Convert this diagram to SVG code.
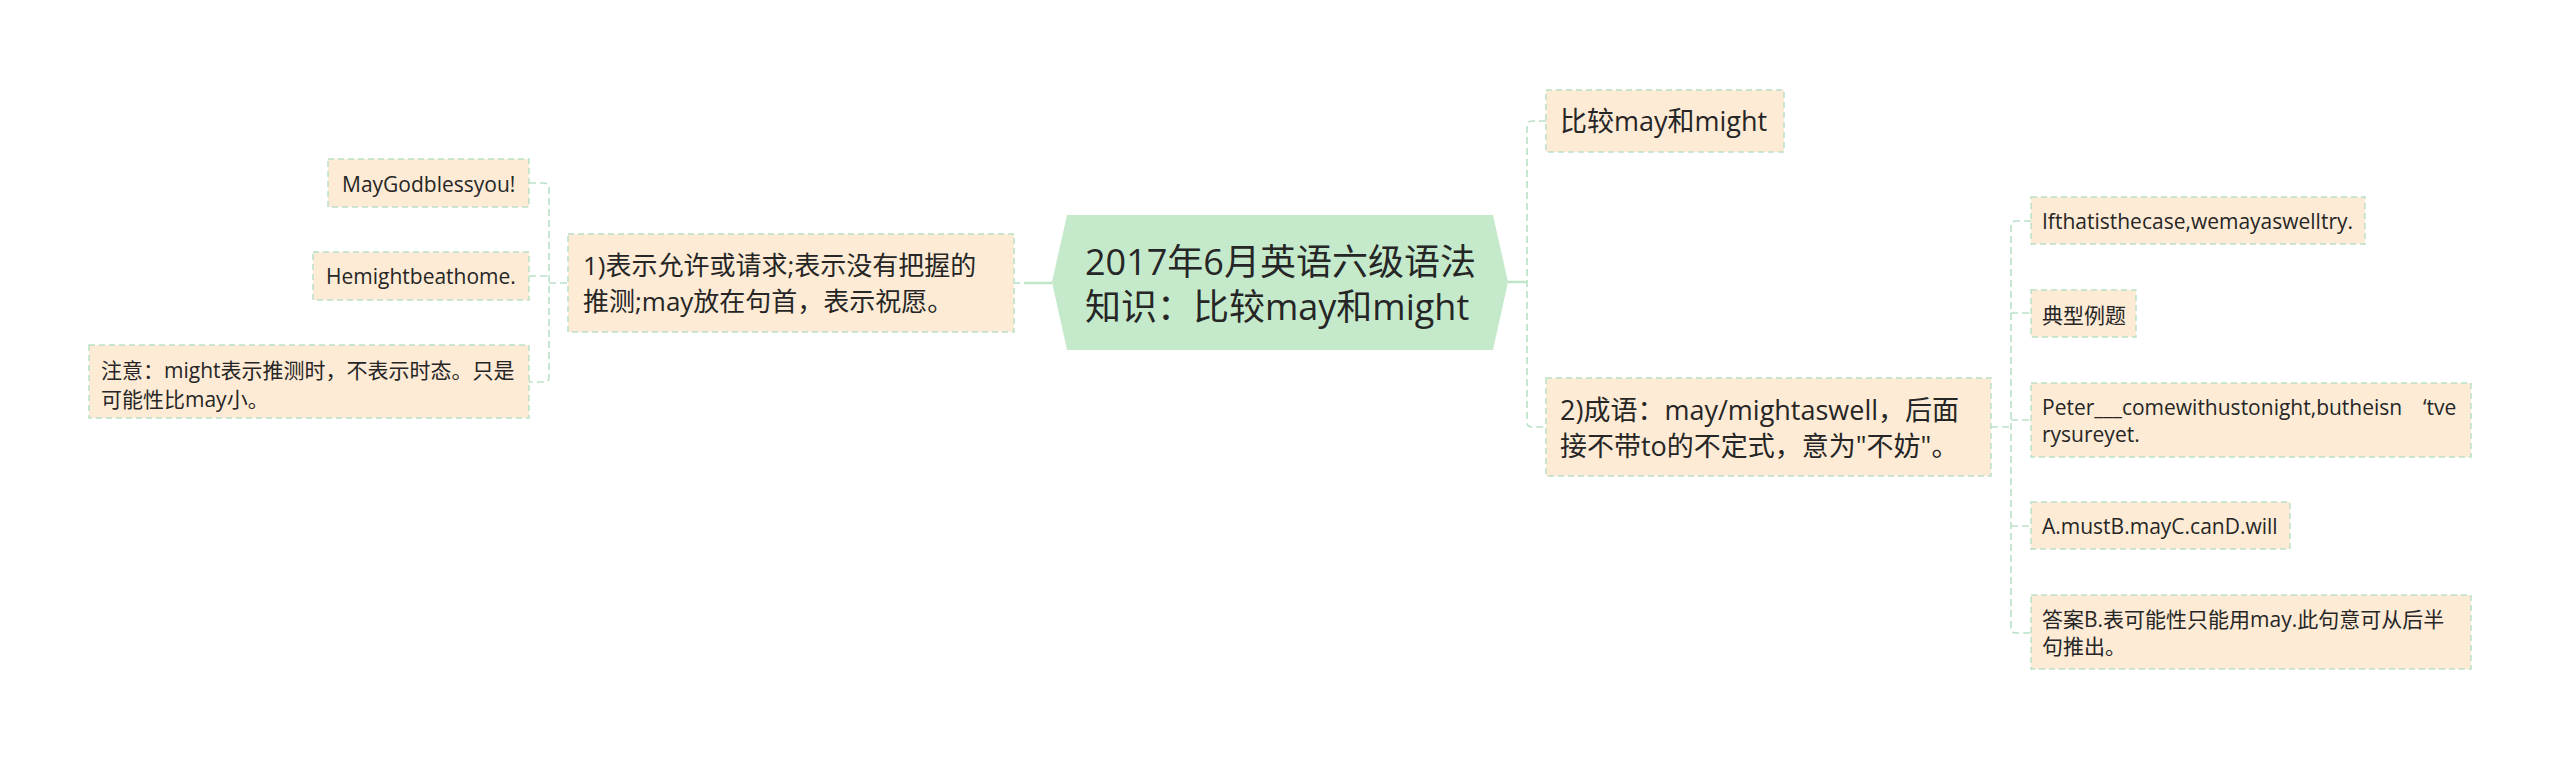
<svg xmlns="http://www.w3.org/2000/svg" width="2560" height="759" viewBox="0 0 2560 759">
<style>
text{font-family:"Open Sans","Noto Sans CJK SC",sans-serif;fill:#262626}
.box{fill:#fdebd5;stroke:#b9e1c6;stroke-width:1.5;stroke-dasharray:6 4}
.dash{fill:none;stroke:#b9e1c6;stroke-width:1.6;stroke-dasharray:7 4}
.solid{fill:none;stroke:#bfe6c8;stroke-width:2.5}
.t36{font-size:36px}
.t26{font-size:26px}
.t27{font-size:27px}
.t21{font-size:21px}
</style>
<rect width="2560" height="759" fill="#ffffff"/>
<g id="connectors">
<path class="dash" d="M529,183 H544 Q549,183 549,188 V377 Q549,382 544,382 H529"/>
<path class="dash" d="M529,276 H549"/>
<path class="dash" d="M549,283 H568"/>
<path class="dash" d="M1014,283 H1020"/>
<path class="solid" d="M1024,283 H1052"/>
<path class="solid" d="M1508,282 H1527"/>
<path class="dash" d="M1546,121 H1532 Q1527,121 1527,126 V422 Q1527,427 1532,427 H1546"/>
<path class="dash" d="M1991,427 H2011"/>
<path class="dash" d="M2031,221 H2016 Q2011,221 2011,226 V628 Q2011,633 2016,633 H2031"/>
<path class="dash" d="M2011,313 H2031"/>
<path class="dash" d="M2011,420 H2031"/>
<path class="dash" d="M2011,526 H2031"/>
</g>
<g id="center">
<polygon points="1052,282 1067,215 1493,215 1508,282 1493,350 1067,350" fill="#c5eacb"/>
<text class="t36" x="1085" y="275">2017年6月英语六级语法</text>
<text class="t36" x="1085" y="320">知识：比较may和might</text>
</g>
<g id="node1">
<rect class="box" x="568" y="234" width="446" height="98"/>
<text class="t26" x="583" y="275">1)表示允许或请求;表示没有把握的</text>
<text class="t26" x="583" y="311">推测;may放在句首，表示祝愿。</text>
</g>
<g id="leaf-maygod">
<rect class="box" x="328" y="159" width="201" height="48"/>
<text class="t21" x="342" y="192">MayGodblessyou!</text>
</g>
<g id="leaf-hemight">
<rect class="box" x="313" y="252" width="216" height="48"/>
<text class="t21" x="326" y="284">Hemightbeathome.</text>
</g>
<g id="leaf-note">
<rect class="box" x="89" y="345" width="440" height="73"/>
<text class="t21" x="101" y="378">注意：might表示推测时，不表示时态。只是</text>
<text class="t21" x="101" y="407">可能性比may小。</text>
</g>
<g id="node-compare">
<rect class="box" x="1546" y="90" width="238" height="62"/>
<text class="t27" x="1560" y="131">比较may和might</text>
</g>
<g id="node2">
<rect class="box" x="1546" y="378" width="445" height="98"/>
<text class="t27" x="1560" y="420">2)成语：may/mightaswell，后面</text>
<text class="t27" x="1560" y="456">接不带to的不定式，意为"不妨"。</text>
</g>
<g id="leaf-ifthat">
<rect class="box" x="2031" y="197" width="334" height="47"/>
<text class="t21" x="2042" y="229">Ifthatisthecase,wemayaswelltry.</text>
</g>
<g id="leaf-example">
<rect class="box" x="2031" y="290" width="105" height="47"/>
<text class="t21" x="2042" y="323">典型例题</text>
</g>
<g id="leaf-peter">
<rect class="box" x="2031" y="383" width="440" height="74"/>
<text class="t21" x="2042" y="415">Peter___comewithustonight,butheisn<tspan x="2423">‘tve</tspan></text>
<text class="t21" x="2042" y="442">rysureyet.</text>
</g>
<g id="leaf-options">
<rect class="box" x="2031" y="502" width="259" height="47"/>
<text class="t21" x="2042" y="534">A.mustB.mayC.canD.will</text>
</g>
<g id="leaf-answer">
<rect class="box" x="2031" y="595" width="440" height="74"/>
<text class="t21" x="2042" y="627">答案B.表可能性只能用may.此句意可从后半</text>
<text class="t21" x="2042" y="654">句推出。</text>
</g>
</svg>
